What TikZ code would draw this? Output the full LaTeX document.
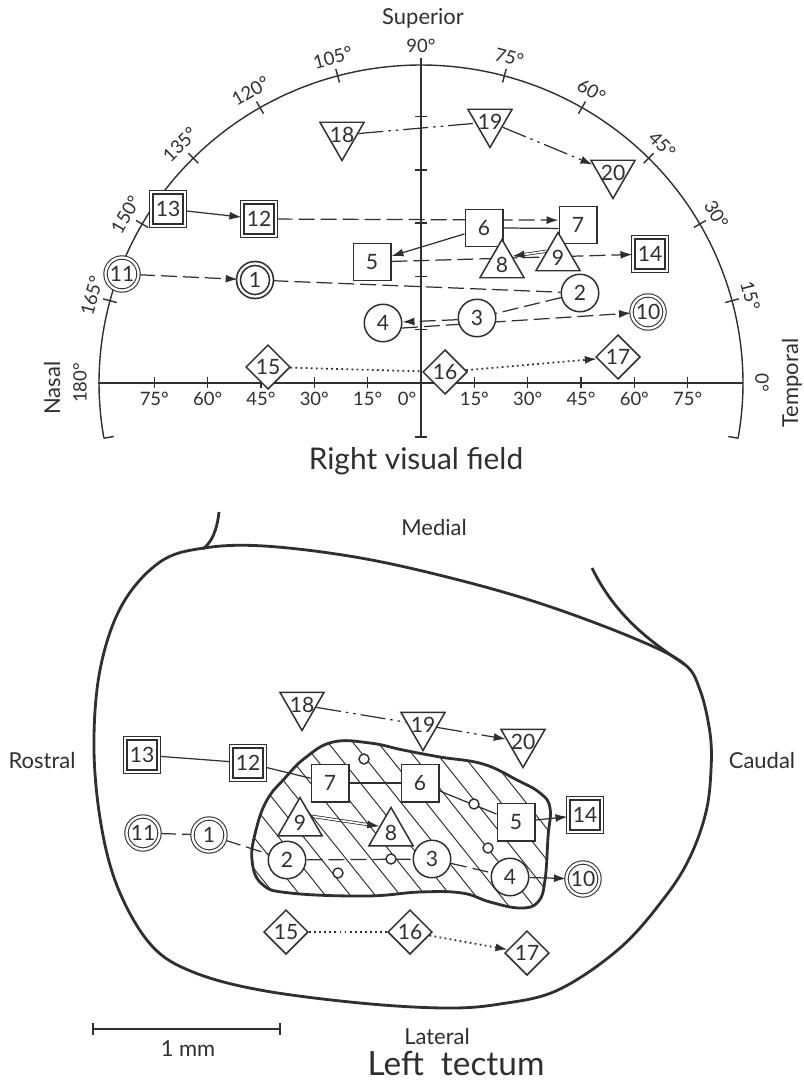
\documentclass[tikz,border=0pt]{standalone}
\usepackage{fontspec}
\setmainfont{Lato}
\usepackage{tikz}
\usetikzlibrary{arrows.meta,positioning,calc,shapes.geometric,backgrounds}
\definecolor{clInk}{HTML}{2F2F2F}
\tikzset{
  mk/.style={draw=clInk, fill=white, line width=0.85pt, inner sep=0pt,
             text=clInk, font=\fontsize{12}{13}\selectfont},
  sqmark/.style={mk, rectangle, minimum size=7.5mm},
  dsqmark/.style={mk, rectangle, minimum size=6.7mm, double=white,
                  double distance=1.1pt, line width=0.9pt},
  cimark/.style={mk, circle, minimum size=7.5mm},
  dcimark/.style={mk, circle, minimum size=6.6mm, double=white,
                  double distance=1.3pt, line width=0.6pt},
  trimark/.style={mk, regular polygon, regular polygon sides=3, inner sep=-3.5pt,
                  minimum size=10.2mm},
  itrimark/.style={trimark, shape border rotate=180},
  diamark/.style={mk, diamond, minimum width=8.9mm, minimum height=8.9mm},
  spot/.style={draw=clInk, fill=white, line width=0.8pt, circle, inner sep=0pt,
               minimum size=2mm},
  axis/.style={draw=clInk, line width=0.8pt},
  hatchline/.style={draw=clInk, line width=0.55pt},
  rim/.style={draw=clInk, line width=1.6pt},
  link/.style={draw=clInk, line width=0.7pt},
  tip/.style={-{Latex[length=2.4mm,width=1.6mm]}},
  dashlink/.style={link, dash pattern=on 3.2mm off 1.2mm},
  dotlink/.style={link, line width=1pt, dash pattern=on 1pt off 1.9pt},
  ddotlink/.style={link, dash pattern=on 5mm off 1mm on 0.5mm off 1mm on 0.5mm off 1mm},
  dbllink/.style={link, double=white, double distance=0.9pt, line width=0.45pt},
  side/.style={text=clInk, font=\fontsize{12.5}{14}\selectfont},
  deg/.style={text=clInk, font=\fontsize{10.5}{12}\selectfont, inner sep=0pt},
  title/.style={text=clInk, font=\fontsize{17}{20}\selectfont},
}

\begin{document}
\begin{tikzpicture}[x=0.2mm, y=-0.2mm]
  \useasboundingbox (0,0) rectangle (803,1081);

  % ---- right visual field: perimeter chart
  \draw[axis] plot[domain=-10:190, samples=150] ({421+322*cos(\x)}, {383-318*sin(\x)});
  \draw[axis] (98,383) -- (743,383);
  \draw[axis] (421,65) -- (421,437) (415,437) -- (427,437);
  \foreach \a in {15,30,...,165}
    \draw[axis] ({421+315*cos(\a)}, {383-311*sin(\a)}) -- ({421+329*cos(\a)}, {383-325*sin(\a)});
  \foreach \a in {-10,190}
    \draw[axis] ({421+322*cos(\a)}, {383-318*sin(\a)}) -- ({421+312*cos(\a)}, {383-308*sin(\a)});
  \foreach \a in {0,15,...,180}
    \node[deg, rotate=\a-90] at ({421+341*cos(\a)}, {383-337*sin(\a)}) {\a°};
  \foreach \d in {15,30,...,75} {
    \draw[axis] ({421-3.556*\d},377) -- ({421-3.556*\d},388);
    \draw[axis] ({421+3.556*\d},377) -- ({421+3.556*\d},388);
    \node[deg] at ({421-3.556*\d},399) {\d°};
    \node[deg] at ({421+3.556*\d},399) {\d°};
  }
  \node[deg] (zero) at (407,399) {0°};
  \foreach \k in {1,...,5}
    \draw[axis] (415,{383-53.3*\k}) -- (427,{383-53.3*\k});

  \node[side] (superior) at (423,18) {Superior};
  \node[side, rotate=90] (nasal) at (52,388) {Nasal};
  \node[side, rotate=90] (temporal) at (792,383) {Temporal};
  \node[title] (rvf) at (416,461) {Right visual field};

  % field positions
  \node[itrimark] (v18) at (342,135) {18};
  \node[itrimark] (v19) at (490,122) {19};
  \node[itrimark] (v20) at (613,173) {20};
  \node[dsqmark] (v13) at (168,209) {13};
  \node[dsqmark] (v12) at (259,219) {12};
  \node[sqmark] (v6) at (484,228) {6};
  \node[sqmark] (v7) at (578,225) {7};
  \node[sqmark] (v5) at (372,262) {5};
  \node[trimark] (v8) at (502,265) {8};
  \node[trimark] (v9) at (558,258) {9};
  \node[dsqmark] (v14) at (650,254) {14};
  \node[dcimark] (v11) at (122,274) {11};
  \node[dcimark, line width=0.95pt] (v1) at (255,280) {1};
  \node[cimark] (v2) at (580,293) {2};
  \node[cimark] (v4) at (383,323) {4};
  \node[cimark] (v3) at (477,318) {3};
  \node[dcimark] (v10) at (648,312) {10};
  \node[diamark] (v15) at (268,367) {15};
  \node[diamark] (v16) at (445,372) {16};
  \node[diamark] (v17) at (618,357) {17};

  % ---- left tectum
  \draw[rim] plot[smooth cycle, tension=0.6] coordinates {
    (204,548) (264,546) (355,557) (447,577) (539,603) (631,637) (683,663)
    (700,690) (710,733) (711,770) (706,812) (690,857) (665,897) (620,948)
    (558,990) (500,1004) (445,1008) (360,1003) (260,990) (193,972) (152,946)
    (120,893) (102,830) (94,750) (100,670) (122,605) (160,562)};
  \draw[rim] (219,512) .. controls (217,530) and (212,542) .. (203,549);
  \draw[rim] (592,568) .. controls (615,615) and (648,640) .. (684,664);

  \path[save path=\patchpath] plot[smooth cycle, tension=0.7] coordinates {
    (333,742) (370,743) (403,750) (440,757) (483,764) (517,780) (540,793)
    (550,808) (548,837) (545,880) (538,902) (520,908) (490,902) (462,893)
    (420,892) (366,896) (290,893) (262,884) (252,860) (256,830) (267,800)
    (285,778) (305,758)};
  \begin{scope}
    \clip[use path=\patchpath];
    \foreach \k in {0,...,18}
      \draw[hatchline] ({110+25*\k},720) -- ++(180,225);
  \end{scope}
  \draw[rim, use path=\patchpath];

  \node[spot] (s1) at (364,759) {};
  \node[spot] (s2) at (474,804) {};
  \node[spot] (s3) at (488,848) {};
  \node[spot] (s4) at (391,859) {};
  \node[spot] (s5) at (338,873) {};

  \node[side] (medial) at (434,527) {Medial};
  \node[side] (rostral) at (42,760) {Rostral};
  \node[side] (caudal) at (762,760) {Caudal};
  \node[side] (lateral) at (437,1036) {Lateral};
  \node[title, font=\fontsize{19}{22}\selectfont, inner sep=0pt] (lt) at (456,1063) {Left\ \ tectum};

  \draw[axis] (93,1029) -- (280,1029) (93,1023) -- (93,1035) (280,1023) -- (280,1035);
  \node[side] (mm) at (188,1049) {1 mm};

  % tectal sites
  \node[itrimark] (t18) at (302,705) {18};
  \node[itrimark] (t19) at (423,725) {19};
  \node[itrimark] (t20) at (523,742) {20};
  \node[dsqmark] (t13) at (142,755) {13};
  \node[dsqmark] (t12) at (248,763) {12};
  \node[sqmark] (t7) at (330,783) {7};
  \node[sqmark] (t6) at (420,783) {6};
  \node[sqmark] (t5) at (516,822) {5};
  \node[dsqmark] (t14) at (585,815) {14};
  \node[trimark] (t9) at (300,823) {9};
  \node[trimark] (t8) at (391,833) {8};
  \node[dcimark] (t11) at (143,833) {11};
  \node[dcimark] (t1) at (209,835) {1};
  \node[cimark] (t2) at (287,860) {2};
  \node[cimark] (t3) at (432,859) {3};
  \node[cimark] (t4) at (510,877) {4};
  \node[dcimark] (t10) at (583,879) {10};
  \node[diamark] (t15) at (286,932) {15};
  \node[diamark] (t16) at (410,932) {16};
  \node[diamark] (t17) at (527,953) {17};

  % ---- connectors
  \begin{scope}[on background layer]
    \draw[ddotlink] (v18) -- (v19);
    \draw[ddotlink, tip] (v19) -- (v20);
    \draw[link, tip] (v13) -- (v12);
    \draw[dashlink, tip] (v12) -- (v7.166);
    \draw[link] (v6.east) -- (v7.190);
    \draw[link, tip] (v6) -- (v5);
    \draw[dashlink, tip] (v5) -- (v14);
    \draw[dbllink, tip] (v9.150) -- (v8.40);
    \draw[dashlink, tip] (v11) -- (v1);
    \draw[dashlink] (v1) -- (v2);
    \draw[dashlink] (v2) -- (v3);
    \draw[dashlink, tip] (v3.185) -- (v4.3);
    \draw[dashlink, tip] (v4.-15) -- (v10);
    \draw[dotlink] (v15) -- (v16);
    \draw[dotlink, tip] (v16) -- (v17);

    \draw[ddotlink] (t18) -- (t19);
    \draw[ddotlink, tip] (t19) -- (t20);
    \draw[link] (t13) -- (t12);
    \draw[link] (t12) -- (t7);
    \draw[link] (t7) -- (t6);
    \draw[link] (t6) -- (t5);
    \draw[link, tip] (t5) -- (t14);
    \draw[dbllink, tip] (t9.30) -- (t8.150);
    \draw[dashlink] (t11) -- (t1);
    \draw[dashlink] (t1) -- (t2);
    \draw[dashlink] (t2) -- (t3);
    \draw[dashlink] (t3) -- (t4);
    \draw[link, tip] (t4) -- (t10);
    \draw[dotlink] (t15) -- (t16);
    \draw[dotlink, tip] (t16) -- (t17);
  \end{scope}
\end{tikzpicture}
\end{document}
